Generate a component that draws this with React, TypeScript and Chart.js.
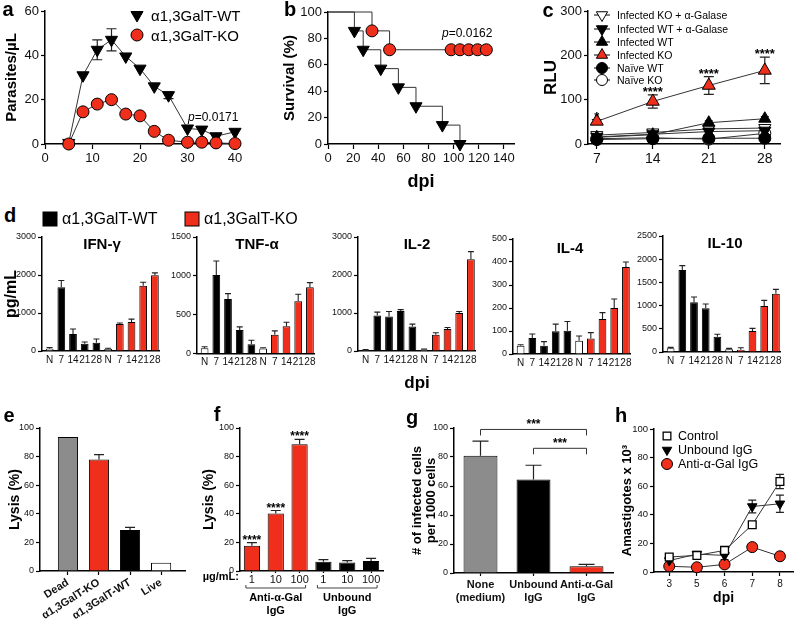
import React, { useEffect, useRef } from 'react';
import { Chart, registerables } from 'chart.js';

Chart.register(...registerables);

const FONT = "'Liberation Sans', Arial, Helvetica, sans-serif";
const RED = '#ef2f1b';
const GRAY = '#8c8c8c';
const INK = '#000';

// ---------- panel a ----------
const aDays = [5, 8, 11, 14, 17, 20, 23, 26, 30, 33, 36, 40];
const aWT = [0.5, 31, 42.5, 47, 39.5, 34, 26, 22, 7, 6.5, 3.5, 5.5];
const aWTErr = [0, 0, 4.5, 5, 0, 0, 0, 1.5, 0, 0, 0, 0];
const aKO = [0, 14.5, 18, 20, 13.5, 12.7, 5.7, 1.7, 0.8, 0.8, 0.5, 0.2];
const groupNames = ['α1,3GalT-WT', 'α1,3GalT-KO'];

// ---------- panel b ----------
const bWTDays = [0, 21, 28, 42, 56, 70, 91, 105];
const bWTSurv = [100, 85.7, 71.4, 57.1, 42.9, 28.6, 14.3, 0];
const bKODays = [0, 35, 49, 98, 105, 112, 119, 126];
const bKOSurv = [100, 85.7, 71.4, 71.4, 71.4, 71.4, 71.4, 71.4];

// ---------- panel c ----------
const cDays = [7, 14, 21, 28];
const cNames = ['Infected KO + α-Galase', 'Infected WT + α-Galase', 'Infected WT', 'Infected KO', 'Naïve WT', 'Naïve KO'];
const cKOGal = [20, 26, 34, 36];
const cWTGal = [16, 22, 28, 30];
const cWT = [15, 21, 48, 57];
const cKO = [51, 96, 132, 166];
const cKOErr = [4, 15, 20, 30];
const cNaiveWT = [10, 12, 13, 13];
const cNaiveKO = [12, 14, 11, 24];
const cSmallErr = [3, 4, 4, 5];
const cStars = ['*', '****', '****', '****'];

// ---------- panel d ----------
const dLabels = ['N', '7', '14', '21', '28', 'N', '7', '14', '21', '28'];
const dTitles = ['IFN-γ', 'TNF-α', 'IL-2', 'IL-4', 'IL-10'];
const ifnVals = [60, 1680, 446, 192, 219, 52, 708, 761, 1714, 1994];
const ifnErr = [30, 175, 131, 44, 96, 20, 27, 79, 96, 61];
const tnfVals = [69, 1011, 703, 304, 120, 64, 240, 351, 673, 853];
const tnfErr = [17, 180, 68, 39, 51, 10, 51, 52, 90, 60];
const il2Vals = [30, 934, 908, 1050, 646, 35, 430, 577, 997, 2415];
const il2Err = [10, 89, 132, 40, 62, 15, 50, 43, 43, 199];
const il4Vals = [36, 70, 36, 99, 101, 58, 67, 152, 200, 378];
const il4Err = [4, 17, 18, 31, 40, 20, 26, 28, 39, 22];
const il10Vals = [79, 1767, 1070, 941, 330, 57, 50, 452, 991, 1257];
const il10Err = [21, 94, 115, 93, 51, 22, 43, 58, 122, 93];
const dColors = ['#fff', INK, INK, INK, INK, '#fff', RED, RED, RED, RED];

// ---------- panel e ----------
const eLabels = ['Dead', 'α1,3GalT-KO', 'α1,3GalT-WT', 'Live'];
const eVals = [93.7, 77.9, 28.6, 5.8];
const eErr = [0, 3.5, 1.9, 0];
const eColors = [GRAY, RED, INK, '#fff'];

// ---------- panel f ----------
const fLabels = ['1', '10', '100', '1', '10', '100'];
const fVals = [17.7, 40.2, 88.6, 6.5, 6.0, 7.0];
const fErr = [2.1, 2.1, 3.5, 1.4, 1.2, 1.8];
const fStars = ['****', '****', '****', '', '', ''];
const fColors = [RED, RED, RED, INK, INK, INK];
const fGroupNames = [['Anti-α-Gal', 'IgG'], ['Unbound', 'IgG']];
const fGroupFirst = [0, 3];
const fGroupLast = [2, 5];
const fUnit = 'µg/mL:';

// ---------- panel g ----------
const gLabels = [['None', '(medium)'], ['Unbound', 'IgG'], ['Anti-α-Gal', 'IgG']];
const gVals = [80.9, 64.4, 4.6];
const gErr = [10.1, 9.9, 1.4];
const gColors = [GRAY, INK, RED];
const gBrFrom = [0, 1];
const gBrTo = [2, 2];
const gBrLevel = [99, 86];
const gBrText = ['***', '***'];

// ---------- panel h ----------
const hDays = ['3', '5', '6', '7', '8'];
const hNames = ['Control', 'Unbound IgG', 'Anti-α-Gal IgG'];
const hControl = [10.5, 11.6, 15.1, 33, 63.3];
const hControlErr = [1.5, 1, 1.5, 1.5, 5];
const hUnbound = [8, 12.5, 11.6, 45.8, 47.7];
const hUnboundErr = [1, 1, 3, 4.5, 6];
const hAnti = [4, 3.3, 5.3, 17.4, 11];
const hAntiErr = [0.5, 0.5, 1, 1, 1];

type Box = { x: number; y: number; w: number; h: number };
type Area = { l: number; t: number; r: number; b: number };

const xy = (xs: number[], ys: number[]) => xs.map((x, i) => ({ x, y: ys[i] }));
const idx = (ys: number[]) => ys.map((y, i) => ({ x: i, y }));
const yOf = (d: any) => (typeof d === 'number' ? d : d.y);

function drawErr(chart: any, kind: string) {
  const ctx = chart.ctx;
  chart.data.datasets.forEach((ds: any, i: number) => {
    if (!ds.err) return;
    const meta = chart.getDatasetMeta(i);
    if (meta.type !== kind) return;
    const ys = chart.scales[meta.yAxisID];
    ctx.save();
    ctx.strokeStyle = ds.errColor || '#222';
    ctx.lineWidth = ds.errWidth || 1.2;
    meta.data.forEach((el: any, j: number) => {
      const e = ds.err[j];
      if (!e) return;
      const v = yOf(ds.data[j]);
      const top = ys.getPixelForValue(v + e);
      const bot = kind === 'bar' ? el.y : ys.getPixelForValue(v - e);
      const cw = ds.capW ?? 4;
      ctx.beginPath();
      ctx.moveTo(el.x, bot);
      ctx.lineTo(el.x, top);
      ctx.moveTo(el.x - cw, top);
      ctx.lineTo(el.x + cw, top);
      if (kind === 'line') {
        ctx.moveTo(el.x - cw, bot);
        ctx.lineTo(el.x + cw, bot);
      }
      ctx.stroke();
    });
    ctx.restore();
  });
}

function drawStars(chart: any) {
  const ctx = chart.ctx;
  chart.data.datasets.forEach((ds: any, i: number) => {
    if (!ds.stars) return;
    const meta = chart.getDatasetMeta(i);
    const ys = chart.scales[meta.yAxisID];
    ctx.save();
    ctx.fillStyle = INK;
    ctx.font = `bold ${ds.starSize || 13}px ${FONT}`;
    ctx.textAlign = 'center';
    ctx.textBaseline = 'alphabetic';
    meta.data.forEach((el: any, j: number) => {
      const s = ds.stars[j];
      if (!s) return;
      const v = yOf(ds.data[j]) + (ds.err ? ds.err[j] || 0 : 0);
      ctx.fillText(s, el.x, ys.getPixelForValue(v) + (ds.starGap ?? 1));
    });
    ctx.restore();
  });
}

const errPlugin = {
  id: 'errbars',
  beforeDatasetsDraw(chart: any) {
    drawErr(chart, 'line');
  },
  afterDatasetsDraw(chart: any) {
    drawErr(chart, 'bar');
    drawStars(chart);
  },
};

function zeroPad(s: any) {
  s.paddingTop = 0;
  s.paddingBottom = 0;
  s.paddingLeft = 0;
  s.paddingRight = 0;
}

function ttl(text: any, size: number, pad: { top?: number; bottom?: number }, lh = 1.2) {
  return {
    display: true,
    text,
    color: INK,
    font: { family: FONT, size, weight: 'bold', lineHeight: lh },
    padding: { top: pad.top ?? 0, bottom: pad.bottom ?? 0 },
  };
}

function yAx(box: Box, area: Area, min: number, max: number, step: number, size: number, title?: any) {
  return {
    type: 'linear',
    position: 'left',
    min,
    max,
    border: { display: true, color: INK, width: 1.5 },
    grid: { display: true, drawOnChartArea: false, drawTicks: true, tickLength: 4, tickWidth: 1.2, tickColor: INK },
    ticks: {
      stepSize: step,
      font: { family: FONT, size },
      color: '#111',
      padding: 2,
      includeBounds: false,
      format: { useGrouping: false },
    },
    title: title ?? { display: false },
    afterFit: (s: any) => {
      s.width = area.l - box.x;
      zeroPad(s);
    },
  };
}

function xAx(box: Box, area: Area, o: any) {
  const tickFont = { family: FONT, size: o.size, weight: o.bold ? 'bold' : 'normal' };
  const ax: any = {
    type: o.type || 'linear',
    position: 'bottom',
    offset: !!o.offset,
    border: { display: true, color: INK, width: 1.5 },
    grid: {
      display: true,
      offset: false,
      drawOnChartArea: false,
      drawTicks: o.tick !== 0,
      tickLength: o.tick ?? 5,
      tickWidth: 1.2,
      tickColor: INK,
    },
    ticks: {
      font: tickFont,
      color: '#111',
      padding: o.pad ?? 2,
      autoSkip: false,
      minRotation: o.rot ?? 0,
      maxRotation: o.rot ?? 0,
      includeBounds: false,
    },
    title: o.title ?? { display: false },
    afterFit: (s: any) => {
      s.height = box.y + box.h - area.b;
      zeroPad(s);
    },
  };
  if (o.min !== undefined) ax.min = o.min;
  if (o.max !== undefined) ax.max = o.max;
  if (o.step) ax.ticks.stepSize = o.step;
  if (o.ticks) {
    const tv = o.ticks;
    ax.afterBuildTicks = (s: any) => {
      s.ticks = tv.map((v: number) => ({ value: v }));
    };
  }
  if (o.labels) {
    const lb = o.labels;
    ax.ticks.callback = (v: any) => lb[v];
  }
  return ax;
}

function config(box: Box, area: Area, type: string, data: any, scales: any, plugins: any[] = []) {
  return {
    type,
    data,
    options: {
      responsive: false,
      maintainAspectRatio: false,
      animation: false,
      devicePixelRatio: 1,
      events: [],
      layout: { padding: { left: 0, top: area.t - box.y, right: box.x + box.w - area.r, bottom: 0 } },
      plugins: { legend: { display: false }, tooltip: { enabled: false }, title: { display: false } },
      scales,
    },
    plugins: [errPlugin, ...plugins],
  };
}

function lineDs(data: any[], shape: string, fill: string, r: number, extra: any = {}) {
  return {
    data,
    borderColor: '#333',
    borderWidth: 1,
    tension: 0,
    fill: false,
    clip: false,
    pointStyle: shape === 'down' || shape === 'up' ? 'triangle' : shape,
    pointRotation: shape === 'down' ? 180 : 0,
    pointRadius: r,
    pointBackgroundColor: fill,
    pointBorderColor: '#000',
    pointBorderWidth: 1,
    ...extra,
  };
}

function barDs(data: any[], colors: string[], pct: number, err: number[], extra: any = {}) {
  return {
    data,
    backgroundColor: colors,
    borderColor: '#000',
    borderWidth: 1,
    borderSkipped: 'bottom',
    barPercentage: pct,
    categoryPercentage: 1,
    err,
    ...extra,
  };
}

// ---------- boxes ----------
const boxA: Box = { x: 0, y: 0, w: 255, h: 180 };
const areaA: Area = { l: 45, t: 11, r: 240, b: 144 };
const boxB: Box = { x: 270, y: 0, w: 252, h: 195 };
const areaB: Area = { l: 328, t: 12, r: 518, b: 144 };
const boxC: Box = { x: 530, y: 0, w: 270, h: 175 };
const areaC: Area = { l: 588, t: 11, r: 780, b: 144 };
const boxE: Box = { x: 0, y: 400, w: 195, h: 220 };
const areaE: Area = { l: 40, t: 428, r: 185, b: 571 };
const boxF: Box = { x: 195, y: 400, w: 195, h: 220 };
const areaF: Area = { l: 240, t: 428, r: 383, b: 571 };
const boxG: Box = { x: 395, y: 400, w: 225, h: 220 };
const areaG: Area = { l: 454, t: 428, r: 613, b: 573 };
const boxH: Box = { x: 600, y: 400, w: 200, h: 220 };
const areaH: Area = { l: 654, t: 429, r: 800, b: 572 };

const dPanels = [
  { box: { x: 0, y: 230, w: 165, h: 145 }, area: { l: 42, t: 237, r: 159, b: 351 }, vals: ifnVals, err: ifnErr, max: 3000, step: 1000, title: ttl('pg/mL', 16, { top: 2.4 }) },
  { box: { x: 165, y: 230, w: 155, h: 145 }, area: { l: 197, t: 237, r: 314, b: 353.5 }, vals: tnfVals, err: tnfErr, max: 1500, step: 500 },
  { box: { x: 325, y: 230, w: 155, h: 145 }, area: { l: 358, t: 237, r: 475, b: 351 }, vals: il2Vals, err: il2Err, max: 3000, step: 1000 },
  { box: { x: 480, y: 230, w: 155, h: 145 }, area: { l: 513, t: 239, r: 630, b: 354 }, vals: il4Vals, err: il4Err, max: 500, step: 100 },
  { box: { x: 635, y: 230, w: 160, h: 145 }, area: { l: 663, t: 236, r: 780, b: 352 }, vals: il10Vals, err: il10Err, max: 2500, step: 500 },
];

const makeA = () =>
  config(boxA, areaA, 'line', {
    datasets: [
      lineDs(xy(aDays, aKO), 'circle', RED, 6, { order: 1 }),
      lineDs(xy(aDays, aWT), 'down', INK, 7, { order: 2, err: aWTErr, capW: 5 }),
    ],
  }, {
    x: xAx(boxA, areaA, { min: 0, max: 41.05, step: 10, size: 13 }),
    y: yAx(boxA, areaA, 0, 60, 20, 13, ttl('Parasites/µL', 15, { top: 3 })),
  });

const firstHidden = (r: number) => (c: any) => (c.dataIndex === 0 ? 0 : r);

const makeB = () =>
  config(boxB, areaB, 'line', {
    datasets: [
      lineDs(xy(bKODays, bKOSurv), 'circle', RED, 6, { order: 1, stepped: 'before', pointRadius: firstHidden(6) }),
      lineDs(xy(bWTDays, bWTSurv), 'down', INK, 7, { order: 2, stepped: 'before', pointRadius: firstHidden(7) }),
    ],
  }, {
    x: xAx(boxB, areaB, { min: 0, max: 148, step: 20, size: 13, title: ttl('dpi', 18, { bottom: 2 }) }),
    y: yAx(boxB, areaB, 0, 100, 20, 13, ttl('Survival (%)', 15, { top: 11 })),
  });

const makeC = () =>
  config(boxC, areaC, 'line', {
    datasets: [
      lineDs(xy(cDays, cKO), 'up', RED, 7.5, { order: 0, err: cKOErr, capW: 5, stars: cStars, starSize: 13 }),
      lineDs(xy(cDays, cWT), 'up', INK, 7, { order: 1, err: cSmallErr }),
      lineDs(xy(cDays, cWTGal), 'down', INK, 7, { order: 2, err: cSmallErr }),
      lineDs(xy(cDays, cKOGal), 'down', '#fff', 7, { order: 3, err: cSmallErr }),
      lineDs(xy(cDays, cNaiveWT), 'circle', INK, 6, { order: 4 }),
      lineDs(xy(cDays, cNaiveKO), 'circle', '#fff', 6, { order: 5 }),
    ],
  }, {
    x: xAx(boxC, areaC, { min: 5.9, max: 29.9, ticks: cDays, size: 14 }),
    y: yAx(boxC, areaC, 0, 300, 100, 13, ttl('RLU', 17, { top: 10.8 })),
  });

const makeD = (k: number) => () => {
  const p = dPanels[k];
  return config(p.box, p.area, 'bar', {
    datasets: [barDs(idx(p.vals), dColors, 0.66, p.err, { capW: 3, errWidth: 1.1 })],
  }, {
    x: xAx(p.box, p.area, { min: -0.65, max: 9.35, ticks: dLabels.map((_, i) => i), labels: dLabels, size: 10, tick: 0, pad: 3 }),
    y: yAx(p.box, p.area, 0, p.max, p.step, 9, p.title),
  });
};

const makeE = () =>
  config(boxE, areaE, 'bar', {
    datasets: [barDs(idx(eVals), eColors, 0.65, eErr, { capW: 5 })],
  }, {
    x: xAx(boxE, areaE, { min: -0.9, max: 3.77, ticks: eLabels.map((_, i) => i), labels: eLabels, size: 11, bold: true, rot: 32, tick: 4, pad: 1 }),
    y: yAx(boxE, areaE, 0, 100, 20, 9, ttl('Lysis (%)', 14, { top: 6.6 })),
  });

const fPlugin = {
  id: 'fgroups',
  afterDraw(chart: any) {
    const { ctx, chartArea } = chart;
    const xs = chart.scales.x;
    ctx.save();
    ctx.strokeStyle = '#444';
    ctx.lineWidth = 1;
    ctx.fillStyle = INK;
    const yb = chartArea.bottom + 17;
    fGroupFirst.forEach((f, g) => {
      const x0 = xs.getPixelForValue(f) - 6;
      const x1 = xs.getPixelForValue(fGroupLast[g]) + 6;
      ctx.beginPath();
      ctx.moveTo(x0, yb - 3);
      ctx.lineTo(x0, yb);
      ctx.lineTo(x1, yb);
      ctx.lineTo(x1, yb - 3);
      ctx.stroke();
      ctx.font = `bold 11px ${FONT}`;
      ctx.textAlign = 'center';
      ctx.textBaseline = 'middle';
      fGroupNames[g].forEach((t, k2) => ctx.fillText(t, (x0 + x1) / 2, yb + 10 + k2 * 13));
    });
    ctx.font = `bold 11px ${FONT}`;
    ctx.textAlign = 'right';
    ctx.textBaseline = 'middle';
    ctx.fillText(fUnit, chartArea.left - 1, chartArea.bottom + 6);
    ctx.restore();
  },
};

const makeF = () =>
  config(boxF, areaF, 'bar', {
    labels: fLabels,
    datasets: [barDs(fVals, fColors, 0.68, fErr, { capW: 5, stars: fStars, starSize: 12 })],
  }, {
    x: xAx(boxF, areaF, { type: 'category', offset: true, size: 11, tick: 2, pad: 0 }),
    y: yAx(boxF, areaF, 0, 100, 20, 9, ttl('Lysis (%)', 14, { top: 6 })),
  }, [fPlugin]);

const gPlugin = {
  id: 'gbrackets',
  afterDraw(chart: any) {
    const { ctx } = chart;
    const xs = chart.scales.x;
    const ys = chart.scales.y;
    ctx.save();
    ctx.lineWidth = 1;
    ctx.strokeStyle = '#333';
    ctx.fillStyle = INK;
    ctx.font = `bold 12px ${FONT}`;
    ctx.textAlign = 'center';
    ctx.textBaseline = 'alphabetic';
    gBrFrom.forEach((f, k) => {
      const x0 = xs.getPixelForValue(f);
      const x1 = xs.getPixelForValue(gBrTo[k]);
      const y = ys.getPixelForValue(gBrLevel[k]);
      ctx.beginPath();
      ctx.moveTo(x0, y + 6);
      ctx.lineTo(x0, y);
      ctx.lineTo(x1, y);
      ctx.lineTo(x1, y + 6);
      ctx.stroke();
      ctx.fillText(gBrText[k], (x0 + x1) / 2, y - 1);
    });
    ctx.restore();
  },
};

const makeG = () =>
  config(boxG, areaG, 'bar', {
    labels: gLabels,
    datasets: [barDs(gVals, gColors, 0.64, gErr, { capW: 8 })],
  }, {
    x: xAx(boxG, areaG, { type: 'category', offset: true, size: 11, bold: true, tick: 3, pad: 2 }),
    y: yAx(boxG, areaG, 0, 100, 20, 9, ttl(['# of infected cells', 'per 1000 cells'], 13, { top: 15 }, 1.1)),
  }, [gPlugin]);

const makeH = () =>
  config(boxH, areaH, 'line', {
    datasets: [
      lineDs(idx(hAnti), 'circle', RED, 5.5, { order: 2, err: hAntiErr }),
      lineDs(idx(hUnbound), 'down', INK, 5.5, { order: 1, err: hUnboundErr }),
      lineDs(idx(hControl), 'rect', '#fff', 5.5, { order: 0, err: hControlErr, pointBorderWidth: 1.3 }),
    ],
  }, {
    x: xAx(boxH, areaH, { min: -0.55, max: 4.48, ticks: hDays.map((_, i) => i), labels: hDays, size: 10, tick: 4, title: ttl('dpi', 14, { bottom: 13.6 }) }),
    y: yAx(boxH, areaH, 0, 100, 20, 9.5, ttl('Amastigotes x 10³', 13, { top: 20 })),
  });

function ChartCanvas({ box, make }: { box: Box; make: () => any }) {
  const ref = useRef<HTMLCanvasElement | null>(null);
  useEffect(() => {
    if (!ref.current) return;
    const chart = new Chart(ref.current, make() as any);
    return () => chart.destroy();
  }, []);
  return (
    <canvas
      ref={ref}
      width={box.w}
      height={box.h}
      style={{ position: 'absolute', left: box.x, top: box.y, width: box.w, height: box.h }}
    />
  );
}

function T({ x, y, s, b, a = 'c', children }: any) {
  const tx = a === 'c' ? '-50%' : a === 'r' ? '-100%' : '0';
  return (
    <div
      style={{
        position: 'absolute',
        left: x,
        top: y,
        transform: `translate(${tx}, -50%)`,
        fontSize: s,
        fontWeight: b ? 'bold' : 'normal',
        fontFamily: FONT,
        lineHeight: 1,
        whiteSpace: 'nowrap',
        color: INK,
      }}
    >
      {children}
    </div>
  );
}

function Mk({ x, y, shape, fill, r = 6, line = 0 }: any) {
  const S = 30;
  const c = S / 2;
  let el: any;
  if (shape === 'circle') el = <circle cx={c} cy={c} r={r} fill={fill} stroke="#000" strokeWidth={1} />;
  else if (shape === 'square')
    el = <rect x={c - r * 0.7} y={c - r * 0.7} width={r * 1.4} height={r * 1.4} fill={fill} stroke="#000" strokeWidth={1.3} />;
  else if (shape === 'box') el = <rect x={c - r} y={c - r} width={r * 2} height={r * 2} fill={fill} stroke="#000" strokeWidth={1} />;
  else {
    const up = shape === 'up';
    const s = up ? 1 : -1;
    const pts = [
      [c, c - s * r],
      [c - r * 0.866, c + s * r * 0.5],
      [c + r * 0.866, c + s * r * 0.5],
    ]
      .map((p) => p.join(','))
      .join(' ');
    el = <polygon points={pts} fill={fill} stroke="#000" strokeWidth={1} />;
  }
  return (
    <svg width={S} height={S} style={{ position: 'absolute', left: x - c, top: y - c, overflow: 'visible' }}>
      {line ? <line x1={c - line} x2={c + line} y1={c} y2={c} stroke="#000" strokeWidth={1} /> : null}
      {el}
    </svg>
  );
}

const cLegendShapes = [
  { shape: 'down', fill: '#fff' },
  { shape: 'down', fill: INK },
  { shape: 'up', fill: INK },
  { shape: 'up', fill: RED },
  { shape: 'circle', fill: INK },
  { shape: 'circle', fill: '#fff' },
];
const cLegendRows = [15, 29, 42, 55, 68, 80];

export default function App() {
  return (
    <div style={{ position: 'absolute', left: 0, top: 0, width: 800, height: 620, background: '#fff', overflow: 'hidden' }}>
      <ChartCanvas box={boxA} make={makeA} />
      <ChartCanvas box={boxB} make={makeB} />
      <ChartCanvas box={boxC} make={makeC} />
      {dPanels.map((p, k) => (
        <ChartCanvas key={k} box={p.box} make={makeD(k)} />
      ))}
      <ChartCanvas box={boxE} make={makeE} />
      <ChartCanvas box={boxF} make={makeF} />
      <ChartCanvas box={boxG} make={makeG} />
      <ChartCanvas box={boxH} make={makeH} />

      {/* panel letters */}
      <T x={8} y={9} s={20} b>a</T>
      <T x={290} y={9} s={20} b>b</T>
      <T x={548} y={10} s={20} b>c</T>
      <T x={10} y={215} s={20} b>d</T>
      <T x={9} y={415} s={20} b>e</T>
      <T x={217} y={414} s={20} b>f</T>
      <T x={412} y={417} s={20} b>g</T>
      <T x={621} y={415} s={20} b>h</T>

      {/* panel a legend & p */}
      <Mk x={137} y={15} shape="down" fill={INK} r={7} />
      <T x={151} y={15} s={15} a="l">{groupNames[0]}</T>
      <Mk x={137} y={35} shape="circle" fill={RED} r={6} />
      <T x={151} y={35} s={15} a="l">{groupNames[1]}</T>
      <T x={188} y={117} s={12} a="l"><i>p</i>=0.0171</T>

      {/* panel b p */}
      <T x={442} y={33} s={12} a="l"><i>p</i>=0.0162</T>

      {/* panel c legend */}
      {cNames.map((n, i) => (
        <React.Fragment key={n}>
          <Mk x={602} y={cLegendRows[i]} shape={cLegendShapes[i].shape} fill={cLegendShapes[i].fill} r={i < 4 ? 6.5 : 5.5} line={8} />
          <T x={617} y={cLegendRows[i]} s={10.5} a="l">{n}</T>
        </React.Fragment>
      ))}

      {/* panel d legend, titles */}
      <Mk x={50} y={219} shape="box" fill={INK} r={7} />
      <T x={62} y={219} s={16} a="l">{groupNames[0]}</T>
      <Mk x={192} y={219} shape="box" fill={RED} r={7} />
      <T x={204} y={219} s={16} a="l">{groupNames[1]}</T>
      <T x={102} y={243} s={15} b>{dTitles[0]}</T>
      <T x={257} y={243} s={15} b>{dTitles[1]}</T>
      <T x={417} y={243} s={15} b>{dTitles[2]}</T>
      <T x={570} y={247} s={15} b>{dTitles[3]}</T>
      <T x={725} y={242} s={15} b>{dTitles[4]}</T>
      <T x={417} y={382} s={17} b>dpi</T>

      {/* panel h legend */}
      <Mk x={667} y={436} shape="square" fill="#fff" r={5.5} line={0} />
      <T x={678} y={436} s={12.5} a="l">{hNames[0]}</T>
      <Mk x={667} y={450} shape="down" fill={INK} r={5.5} />
      <T x={678} y={450} s={12.5} a="l">{hNames[1]}</T>
      <Mk x={667} y={464} shape="circle" fill={RED} r={5.5} />
      <T x={678} y={464} s={12.5} a="l">{hNames[2]}</T>
    </div>
  );
}
